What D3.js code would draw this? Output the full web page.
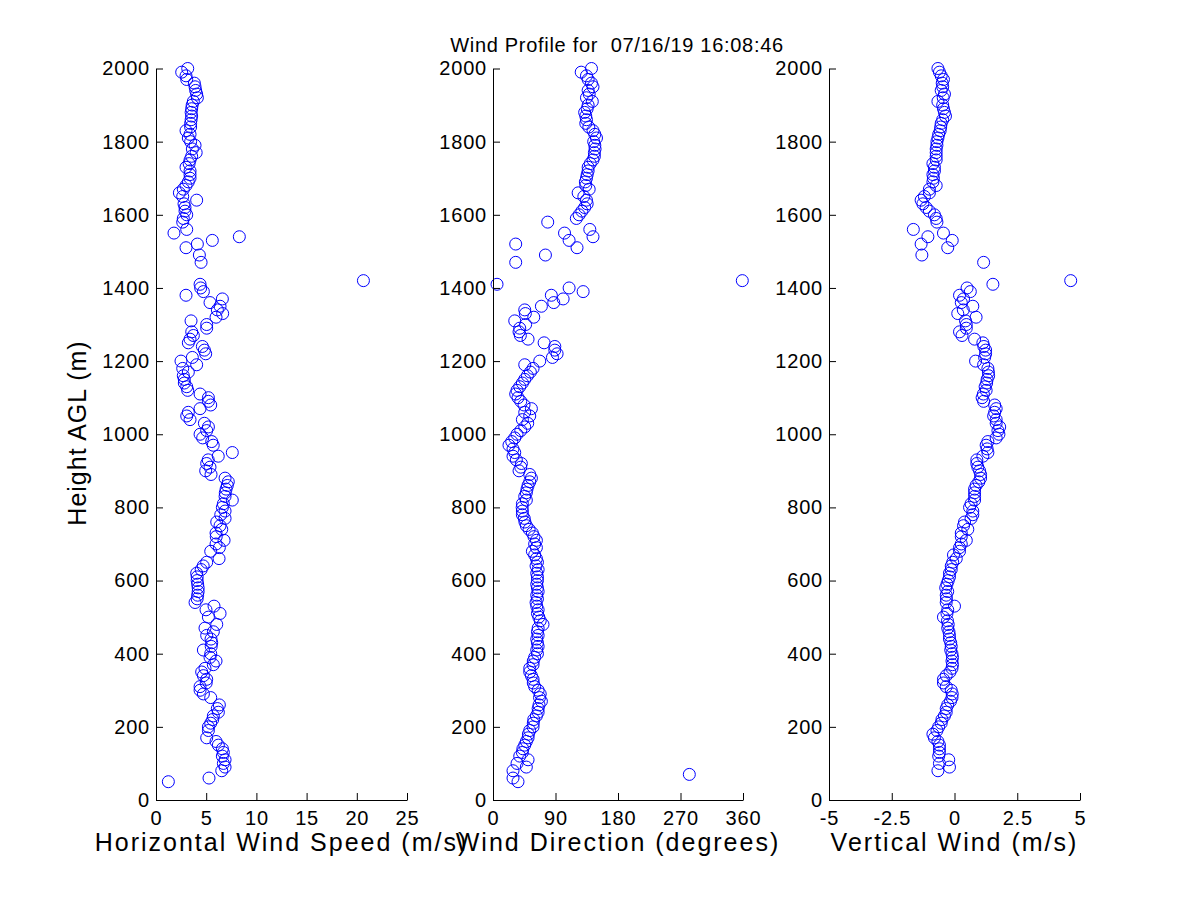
<!DOCTYPE html>
<html>
<head>
<meta charset="utf-8">
<script src="https://cdn.jsdelivr.net/npm/d3@7.9.0/dist/d3.min.js"></script>
<style>
  body { margin: 0; background: #fff; }
  svg { display: block; background: #fff; }
  text { font-family: "Liberation Sans", Arial, sans-serif; fill: #000; }
</style>
</head>
<body>
<svg id="chart" width="1200" height="900"></svg>
<script>
// [height AGL (m), value] pairs
const speedData = [
  [2000,3.16],[1990,2.56],[1980,2.99],[1970,3.06],[1960,3.82],[1950,3.89],[1940,3.95],[1930,4.05],
  [1920,4.12],[1910,3.72],[1900,3.6],[1890,3.55],[1880,3.5],[1870,3.55],[1860,3.5],[1850,3.45],
  [1840,3.45],[1830,2.99],[1820,3.39],[1810,3.22],[1800,3.45],[1790,3.89],[1780,3.62],[1770,4.0],
  [1760,3.55],[1750,3.39],[1740,3.3],[1730,2.99],[1720,3.39],[1710,3.39],[1700,3.39],[1690,3.22],
  [1680,2.99],[1670,2.72],[1660,2.33],[1650,2.66],[1640,4.05],[1630,2.79],[1620,2.89],[1610,2.89],
  [1600,3.06],[1590,2.72],[1580,2.66],[1560,3.06],[1550,1.79],[1540,8.3],[1530,5.61],[1520,4.12],
  [1510,2.99],[1490,4.32],[1470,4.49],[1420,20.66],[1410,4.39],[1400,4.45],[1390,4.72],[1380,2.99],
  [1370,6.61],[1360,5.38],[1350,6.38],[1340,6.11],[1330,6.64],[1320,5.98],[1310,3.49],[1300,5.05],
  [1290,5.05],[1280,3.56],[1270,3.72],[1260,3.39],[1250,3.22],[1240,4.62],[1230,4.82],[1220,4.95],
  [1210,3.62],[1200,2.49],[1190,4.05],[1180,2.66],[1170,3.22],[1160,2.72],[1150,2.82],[1140,2.82],
  [1130,3.06],[1120,3.16],[1110,4.39],[1100,5.22],[1090,5.22],[1080,5.45],[1070,4.39],[1060,3.22],
  [1050,3.06],[1040,3.39],[1030,4.82],[1020,5.22],[1010,5.05],[1000,4.39],[990,4.65],[980,5.55],
  [970,5.7],[950,7.6],[940,6.2],[930,5.2],[920,5.05],[910,5.38],[900,4.95],[890,5.48],
  [880,6.88],[870,7.2],[860,7.1],[850,6.98],[840,6.9],[830,6.88],[820,7.6],[810,6.71],
  [800,6.61],[790,6.88],[780,6.45],[770,6.88],[760,6.05],[750,6.38],[740,6.55],[730,5.98],
  [720,6.0],[710,6.78],[700,5.98],[690,6.31],[680,5.45],[660,6.28],[650,5.05],[640,4.7],
  [630,4.5],[620,4.05],[610,4.1],[600,4.1],[590,4.15],[580,4.2],[570,4.2],[560,4.15],
  [550,4.1],[540,3.89],[530,5.78],[520,4.98],[510,6.38],[500,5.22],[480,6.05],[470,4.88],
  [460,5.71],[450,5.05],[440,5.48],[430,5.55],[420,5.5],[410,4.72],[400,5.45],[390,5.38],
  [380,5.98],[370,5.71],[360,4.88],[350,4.55],[340,4.72],[330,5.05],[320,5.0],[310,4.39],
  [300,4.39],[290,4.72],[280,5.45],[260,6.31],[250,6.11],[240,6.21],[230,5.71],[220,5.65],
  [210,5.45],[200,5.22],[190,5.22],[170,5.05],[160,5.98],[150,6.21],[140,6.61],[130,6.71],
  [120,6.61],[110,6.88],[100,6.71],[90,6.88],[80,6.55],[60,5.28],[50,1.23]
];

const directionData = [
  [2000,141.8],[1990,127],[1980,134.6],[1970,137],[1960,141.8],[1950,144],[1940,137],[1930,138.5],
  [1920,134.6],[1910,143],[1900,137],[1890,135.6],[1880,132],[1870,133.6],[1860,134.6],[1850,133.6],
  [1840,138],[1830,144],[1820,146.6],[1810,149],[1800,145],[1790,146.6],[1780,147],[1770,146],
  [1760,146],[1750,144],[1740,140],[1730,137],[1720,137],[1710,135.6],[1700,134.6],[1690,133],
  [1680,133.6],[1670,138.5],[1660,122.6],[1650,130.8],[1640,134.6],[1630,135.6],[1620,132],[1610,128],
  [1600,124],[1590,120],[1580,78.8],[1560,139.4],[1550,103],[1540,144],[1530,109.6],[1520,32.7],
  [1510,121],[1490,75.5],[1470,32.7],[1420,359],[1410,5.8],[1400,109.6],[1390,129.8],[1380,84],
  [1370,101],[1360,87.5],[1350,69.7],[1340,45.7],[1330,46.6],[1320,58.7],[1310,31.3],[1300,47],
  [1290,38.5],[1280,37.5],[1270,39.4],[1260,50.5],[1250,73.6],[1240,89],[1230,89],[1220,92.3],
  [1210,85.6],[1200,67.3],[1190,45.7],[1180,57.7],[1170,53.8],[1160,49.5],[1150,45.7],[1140,42.3],
  [1130,38.5],[1120,34.6],[1110,32.7],[1100,36],[1090,40],[1080,44.7],[1070,55.3],[1060,45.7],
  [1050,52.9],[1040,42.3],[1030,50],[1020,45.7],[1010,40],[1000,34.6],[990,31.3],[980,27],
  [970,23],[960,28.8],[950,31.3],[940,28.8],[930,33.6],[920,40.9],[910,40],[900,37.5],
  [890,52.9],[880,55.3],[870,52.9],[860,50.5],[850,49],[840,48],[830,45.7],[820,48],
  [810,42.3],[800,42],[790,42.3],[780,42.3],[770,45],[760,46],[750,48],[740,52],
  [730,56.7],[720,59],[710,62.5],[700,60],[690,62.5],[680,56.7],[670,60],[660,62.5],
  [650,64],[640,62],[630,65],[620,63],[610,64],[600,64],[590,63],[580,64],
  [570,65],[560,63],[550,64],[540,62],[530,63],[520,65],[510,64],[500,66],
  [490,68],[480,72],[470,65],[460,64],[450,65],[440,63],[430,64],[420,65],
  [410,63],[400,64],[390,60],[380,58],[370,57.7],[360,52.9],[350,52.9],[340,55.3],
  [330,57.7],[320,58],[310,60],[300,65],[290,68],[280,67],[270,69.7],[260,66.3],
  [250,65],[240,65],[230,62.5],[220,58.7],[210,58],[200,57.7],[190,52.9],[180,51],
  [170,50.5],[160,48],[150,45.7],[140,43],[130,42.3],[120,38.5],[110,50.5],[100,34.6],
  [90,48],[80,28.8],[70,282.7],[60,28.8],[50,36]
];

const verticalData = [
  [2000,-0.66],[1990,-0.6],[1980,-0.53],[1970,-0.44],[1960,-0.49],[1950,-0.47],[1940,-0.53],[1930,-0.4],
  [1920,-0.45],[1910,-0.66],[1900,-0.47],[1890,-0.44],[1880,-0.4],[1870,-0.36],[1860,-0.47],[1850,-0.53],
  [1840,-0.55],[1830,-0.57],[1820,-0.63],[1810,-0.66],[1800,-0.7],[1790,-0.7],[1780,-0.73],[1770,-0.73],
  [1760,-0.73],[1750,-0.73],[1740,-0.86],[1730,-0.8],[1720,-0.8],[1710,-0.86],[1700,-0.84],[1690,-0.86],
  [1680,-0.73],[1670,-1.0],[1660,-1.0],[1650,-1.2],[1640,-1.33],[1630,-1.26],[1620,-1.13],[1610,-1.0],
  [1600,-0.8],[1590,-0.73],[1580,-0.7],[1560,-1.64],[1550,-0.44],[1540,-1.06],[1530,-0.09],[1520,-1.33],
  [1510,-0.27],[1490,-1.3],[1470,1.16],[1420,4.63],[1410,1.53],[1400,0.5],[1390,0.63],[1380,0.2],
  [1370,0.36],[1360,0.27],[1350,0.73],[1340,0.35],[1330,0.13],[1320,0.86],[1310,0.44],[1300,0.47],
  [1290,0.47],[1280,0.2],[1270,0.3],[1260,0.8],[1250,1.13],[1240,1.17],[1230,1.24],[1220,1.24],
  [1210,1.2],[1200,0.84],[1190,1.16],[1180,1.33],[1170,1.35],[1160,1.36],[1150,1.3],[1140,1.28],
  [1130,1.22],[1120,1.26],[1110,1.15],[1100,1.1],[1090,1.16],[1080,1.6],[1070,1.66],[1060,1.6],
  [1050,1.56],[1040,1.66],[1030,1.66],[1020,1.8],[1010,1.73],[1000,1.77],[990,1.66],[980,1.33],
  [970,1.26],[960,1.3],[950,1.33],[940,1.13],[930,0.89],[920,0.89],[910,0.93],[900,1.0],
  [890,1.04],[880,1.04],[870,0.97],[860,0.86],[850,0.8],[840,0.8],[830,0.8],[820,0.8],
  [810,0.66],[800,0.6],[790,0.73],[780,0.73],[770,0.66],[760,0.4],[750,0.36],[740,0.53],
  [730,0.27],[720,0.27],[710,0.47],[700,0.27],[690,0.2],[680,0.2],[670,-0.04],[660,0.07],
  [650,-0.07],[640,-0.13],[630,-0.13],[620,-0.2],[610,-0.2],[600,-0.25],[590,-0.3],[580,-0.35],
  [570,-0.27],[560,-0.33],[550,-0.32],[540,-0.33],[530,0.0],[520,-0.27],[510,-0.3],[500,-0.44],
  [490,-0.28],[480,-0.25],[470,-0.27],[460,-0.22],[450,-0.2],[440,-0.2],[430,-0.15],[420,-0.13],
  [410,-0.15],[400,-0.1],[390,-0.08],[380,-0.1],[370,-0.08],[360,-0.1],[350,-0.18],[340,-0.33],
  [330,-0.44],[320,-0.44],[310,-0.33],[300,-0.13],[290,-0.09],[280,-0.1],[270,-0.16],[260,-0.27],
  [250,-0.33],[240,-0.33],[230,-0.4],[220,-0.5],[210,-0.53],[200,-0.63],[190,-0.7],[180,-0.86],
  [170,-0.8],[160,-0.66],[150,-0.6],[140,-0.6],[130,-0.6],[120,-0.63],[110,-0.23],[100,-0.6],
  [90,-0.2],[80,-0.66]
];

const heightTicks = [0, 200, 400, 600, 800, 1000, 1200, 1400, 1600, 1800, 2000];
const speedTicks = [0, 5, 10, 15, 20, 25];
const directionTicks = [0, 90, 180, 270, 360];
const verticalTicks = [-5, -2.5, 0, 2.5, 5];

const titleText = 'Wind Profile for  07/16/19 16:08:46';
const yLabel = 'Height AGL (m)';
const xLabels = ['Horizontal Wind Speed (m/s)', 'Wind Direction (degrees)', 'Vertical Wind (m/s)'];

const svg = d3.select('#chart');
svg.append('rect').attr('width', 1200).attr('height', 900).attr('fill', '#fff');

let y = d3.scaleLinear().domain([0, 2000]).range([800, 68.5]);

let panels = [
  { data: speedData, domain: [0, 25], ticks: speedTicks, left: 156, right: 407, label: xLabels[0] },
  { data: directionData, domain: [0, 360], ticks: directionTicks, left: 493, right: 743, label: xLabels[1] },
  { data: verticalData, domain: [-5, 5], ticks: verticalTicks, left: 829, right: 1080, label: xLabels[2] }
];

panels.forEach((p) => {
  let x = d3.scaleLinear().domain(p.domain).range([p.left, p.right]);
  let g = svg.append('g');

  // points
  g.append('g')
    .selectAll('circle')
    .data(p.data)
    .join('circle')
    .attr('cx', (d) => x(d[1]))
    .attr('cy', (d) => y(d[0]))
    .attr('r', 6)
    .attr('fill', 'none')
    .attr('stroke', '#0000ff')
    .attr('stroke-width', 1);

  // y axis, ticks pointing inward
  let yAxis = g.append('g')
    .attr('transform', `translate(${p.left},0)`)
    .call(d3.axisLeft(y).tickValues(heightTicks).tickSize(-7).tickSizeOuter(0).tickPadding(6).tickFormat((d) => String(d)));

  // x axis
  let xAxis = g.append('g')
    .attr('transform', `translate(0,800)`)
    .call(d3.axisBottom(x).tickValues(p.ticks).tickSize(-7).tickSizeOuter(0).tickPadding(11).tickFormat((d) => String(d)));

  [yAxis, xAxis].forEach((ax) => {
    ax.attr('font-size', null).attr('font-family', null);
    ax.selectAll('text').style('font-size', '20px').style('letter-spacing', '0.8px');
    ax.selectAll('path, line').attr('stroke', '#000');
  });

  g.append('text')
    .attr('x', (p.left + p.right) / 2)
    .attr('y', 851)
    .attr('text-anchor', 'middle')
    .style('font-size', '25px')
    .style('letter-spacing', '2px')
    .text(p.label);
});

svg.append('text')
  .attr('transform', 'translate(86,433) rotate(-90)')
  .attr('text-anchor', 'middle')
  .style('font-size', '25px')
  .style('letter-spacing', '1px')
  .text(yLabel);

svg.append('text')
  .attr('x', 617)
  .attr('y', 52)
  .attr('text-anchor', 'middle')
  .style('font-size', '20px')
  .style('letter-spacing', '0.7px')
  .style('white-space', 'pre')
  .text(titleText);
</script>
</body>
</html>
